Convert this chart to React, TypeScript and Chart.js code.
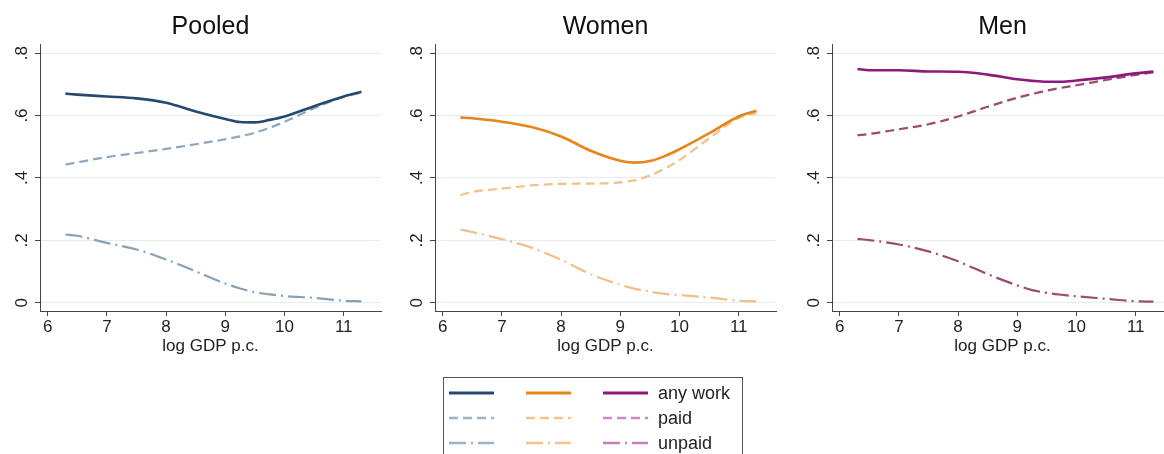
import React, { useEffect, useRef } from "react";
import { Chart, registerables } from "chart.js";

Chart.register(...registerables);

const FONT = "'Liberation Sans', Arial, Helvetica, sans-serif";

// ---------- data ----------
const panelTitles = ["Pooled", "Women", "Men"];
const xLabel = "log GDP p.c.";
const xTicks = [6, 7, 8, 9, 10, 11];
const yTicks = [0, 0.2, 0.4, 0.6, 0.8];
const yTickLabels = ["0", ".2", ".4", ".6", ".8"];
const seriesNames = ["any work", "paid", "unpaid"];

const logGdp = [6.3, 6.5, 7, 7.5, 8, 8.5, 9, 9.25, 9.5, 9.75, 10, 10.5, 11, 11.3];

const pooledAny = [0.670, 0.667, 0.661, 0.655, 0.641, 0.613, 0.589, 0.579, 0.578, 0.586, 0.597, 0.630, 0.661, 0.676];
const pooledPaid = [0.443, 0.450, 0.467, 0.480, 0.493, 0.508, 0.524, 0.533, 0.545, 0.561, 0.580, 0.623, 0.660, 0.673];
const pooledUnpaid = [0.219, 0.215, 0.192, 0.171, 0.139, 0.101, 0.062, 0.046, 0.034, 0.027, 0.022, 0.016, 0.007, 0.005];

const womenAny = [0.594, 0.591, 0.580, 0.563, 0.533, 0.487, 0.455, 0.449, 0.454, 0.470, 0.492, 0.543, 0.597, 0.615];
const womenPaid = [0.345, 0.355, 0.366, 0.376, 0.381, 0.382, 0.386, 0.393, 0.408, 0.430, 0.457, 0.527, 0.592, 0.608];
const womenUnpaid = [0.235, 0.227, 0.204, 0.177, 0.138, 0.092, 0.058, 0.045, 0.036, 0.029, 0.025, 0.017, 0.007, 0.005];

const menAny = [0.749, 0.745, 0.745, 0.741, 0.740, 0.731, 0.716, 0.711, 0.708, 0.708, 0.712, 0.722, 0.735, 0.741];
const menPaid = [0.537, 0.541, 0.556, 0.572, 0.597, 0.628, 0.657, 0.669, 0.680, 0.689, 0.697, 0.714, 0.730, 0.738];
const menUnpaid = [0.205, 0.201, 0.187, 0.165, 0.133, 0.092, 0.056, 0.041, 0.032, 0.026, 0.021, 0.013, 0.005, 0.004];

// ---------- styles ----------
const lineColors = [
  ["#264a6e", "#8fa6bf", "#8aa0b5"],
  ["#e8841c", "#f2c08a", "#f0bf86"],
  ["#8c1a7c", "#9c4b72", "#9c4b72"],
];
const legendColors = [
  ["#264a6e", "#9fb3c8", "#9fb3c8"],
  ["#e8841c", "#f5c48c", "#f5c48c"],
  ["#8c1a7c", "#cc88c8", "#c47fc0"],
];
const dashes = [[], [9, 5], [17, 5, 2, 5]];
const widths = [2.6, 2.2, 2.2];

const panelData = [
  [pooledAny, pooledPaid, pooledUnpaid],
  [womenAny, womenPaid, womenUnpaid],
  [menAny, menPaid, menUnpaid],
];
const panelLefts = [0, 395, 792];

function Panel({ idx }: { idx: number }) {
  const ref = useRef<HTMLCanvasElement | null>(null);
  useEffect(() => {
    if (!ref.current) return;
    const datasets = panelData[idx].map((vals, s) => ({
      label: seriesNames[s],
      data: logGdp.map((x, i) => ({ x, y: vals[i] })),
      borderColor: lineColors[idx][s],
      borderWidth: widths[s],
      borderDash: dashes[s],
      pointRadius: 0,
      fill: false,
      cubicInterpolationMode: "monotone" as const,
      borderCapStyle: "butt" as const,
    }));
    const chart = new Chart(ref.current, {
      type: "line",
      data: { datasets },
      options: {
        responsive: false,
        maintainAspectRatio: false,
        animation: false,
        layout: { padding: { left: 0, right: 11, top: 0, bottom: 0 } },
        plugins: {
          legend: { display: false },
          tooltip: { enabled: false },
          title: {
            display: true,
            text: panelTitles[idx],
            fullSize: false,
            color: "#111",
            font: { family: FONT, size: 25, weight: "normal" },
            padding: { top: 12, bottom: 2 },
          },
        },
        scales: {
          x: {
            type: "linear",
            min: 5.87,
            max: 11.63,
            afterBuildTicks: (s: any) => {
              s.ticks = xTicks.map((v) => ({ value: v }));
            },
            afterFit: (s: any) => {
              s.height = 59;
            },
            ticks: {
              color: "#222",
              font: { family: FONT, size: 17 },
              padding: 1,
              maxRotation: 0,
              autoSkip: false,
              callback: (v: any) => String(v),
            },
            grid: { drawOnChartArea: false, tickLength: 5, tickColor: "#444" },
            border: { color: "#444", width: 1 },
            title: {
              display: true,
              text: xLabel,
              color: "#222",
              font: { family: FONT, size: 17 },
              padding: { top: 0, bottom: 13 },
            },
          },
          y: {
            type: "linear",
            min: -0.026,
            max: 0.829,
            afterBuildTicks: (s: any) => {
              s.ticks = yTicks.map((v) => ({ value: v }));
            },
            afterFit: (s: any) => {
              s.width = 40;
            },
            ticks: {
              color: "#222",
              font: { family: FONT, size: 17 },
              minRotation: 90,
              maxRotation: 90,
              crossAlign: "center",
              padding: 6,
              autoSkip: false,
              callback: (_v: any, i: number) => yTickLabels[i],
            },
            grid: { color: "#e3edf0", lineWidth: 1, tickLength: 5, tickColor: "#444" },
            border: { color: "#444", width: 1 },
          },
        },
      },
    } as any);
    return () => chart.destroy();
  }, [idx]);
  return (
    <canvas
      ref={ref}
      width={392}
      height={370}
      style={{ position: "absolute", left: panelLefts[idx], top: 0, width: 392, height: 370 }}
    />
  );
}

function Legend() {
  const colX = [449, 526, 603];
  const rowY = [393, 418, 443];
  const lineLen = 45;
  return (
    <svg
      width={1164}
      height={454}
      style={{ position: "absolute", left: 0, top: 0, pointerEvents: "none" }}
    >
      <rect x={443.5} y={377.5} width={299} height={90} fill="none" stroke="#555" strokeWidth={1} />
      {rowY.map((y, r) =>
        colX.map((x, c) => (
          <line
            key={`${r}-${c}`}
            x1={x}
            x2={x + lineLen}
            y1={y}
            y2={y}
            stroke={legendColors[c][r]}
            strokeWidth={widths[r] + 0.4}
            strokeDasharray={dashes[r].length ? dashes[r].join(" ") : undefined}
          />
        ))
      )}
      {rowY.map((y, r) => (
        <text
          key={`t${r}`}
          x={658}
          y={y}
          dominantBaseline="central"
          fontFamily={FONT}
          fontSize={18}
          fill="#222"
        >
          {seriesNames[r]}
        </text>
      ))}
    </svg>
  );
}

export default function App() {
  return (
    <div
      style={{
        position: "fixed",
        left: 0,
        top: 0,
        width: 1164,
        height: 454,
        overflow: "hidden",
        background: "#fff",
      }}
    >
      {[0, 1, 2].map((i) => (
        <Panel key={i} idx={i} />
      ))}
      <Legend />
    </div>
  );
}
